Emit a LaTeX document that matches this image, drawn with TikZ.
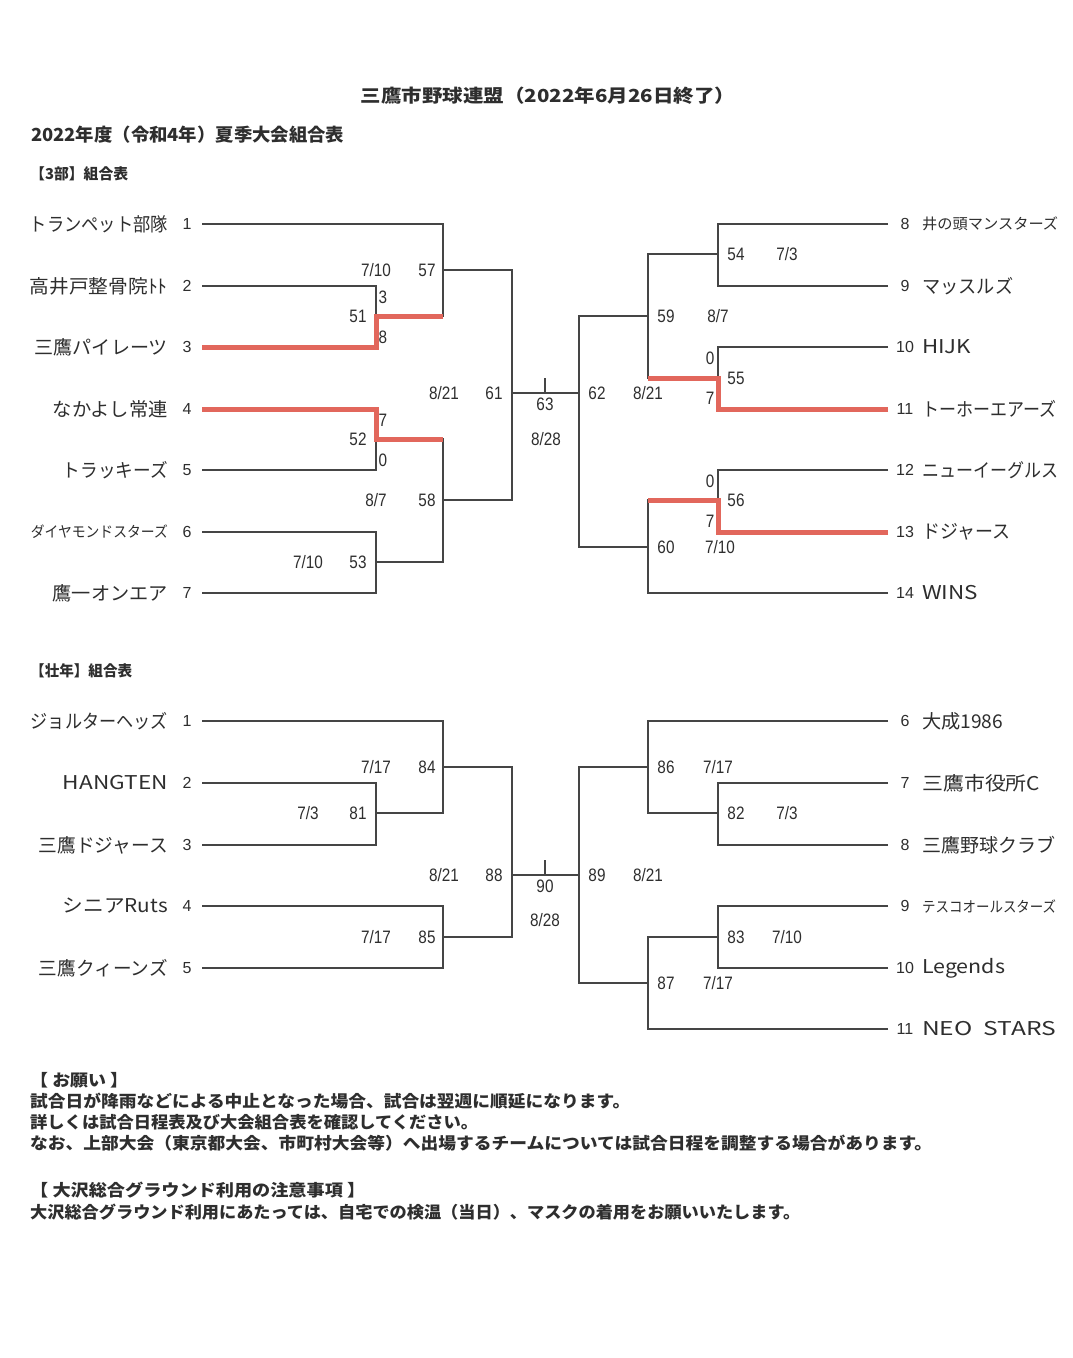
\documentclass[tikz,border=0pt]{standalone}
\usepackage{fontspec}
\usepackage{graphicx}
\setmainfont{Noto Sans CJK JP}
\newfontfamily\numfont{Liberation Sans}[FakeStretch=0.85]
\newfontfamily\seedfont{Liberation Sans}
\newcommand\fitw[2]{\resizebox{#1pt}{\height}{#2}}
\definecolor{ln}{HTML}{454545}
\definecolor{rd}{HTML}{E2675C}
\definecolor{tx}{HTML}{2E2E2E}
\begin{document}
\begin{tikzpicture}[x=1pt,y=-1pt,
  br/.style={draw=ln, line width=1.5pt},
  win/.style={draw=rd, line width=5pt, line join=miter},
  lname/.style={anchor=east, inner sep=0pt, text=tx, font=\fontsize{19}{19}\selectfont},
  rname/.style={anchor=west, inner sep=0pt, text=tx, font=\fontsize{19}{19}\selectfont},
  small/.style={font=\fontsize{15}{15}\selectfont},
  seed/.style={inner sep=0pt, text=tx, font=\seedfont\fontsize{16}{16}\selectfont},
  lbl/.style={inner sep=0pt, text=tx, font=\numfont\fontsize{18}{18}\selectfont},
  head/.style={anchor=west, inner sep=0pt, text=tx, font=\bfseries\fontsize{16}{16}\selectfont},
  note/.style={anchor=west, inner sep=0pt, text=tx, font=\bfseries\fontsize{16.5}{16.5}\selectfont},
]
\useasboundingbox[fill=white] (0,0) rectangle (1072,1358);

% ---------- headings ----------
\node[inner sep=0pt, text=tx, font=\bfseries\fontsize{18}{18}\selectfont] (title) at (548,96) {\fitw{374}{三鷹市野球連盟（2022年6月26日終了）}};
\node[head, font=\bfseries\fontsize{18}{18}\selectfont] (sub) at (31,135) {\fitw{313}{2022年度（令和4年）夏季大会組合表}};
\node[head, font=\bfseries\fontsize{15}{15}\selectfont] (secA) at (30,174) {\fitw{98}{【3部】組合表}};
\node[head, font=\bfseries\fontsize{15}{15}\selectfont] (secB) at (30,671) {\fitw{102}{【壮年】組合表}};

% ================= Section A: 3部 =================
\coordinate (a1) at (202,224); \coordinate (a2) at (202,286);
\coordinate (a3) at (202,347); \coordinate (a4) at (202,409);
\coordinate (a5) at (202,470); \coordinate (a6) at (202,532);
\coordinate (a7) at (202,593);
\coordinate (b8) at (888,224); \coordinate (b9) at (888,286);
\coordinate (b10) at (888,347); \coordinate (b11) at (888,409);
\coordinate (b12) at (888,470); \coordinate (b13) at (888,532);
\coordinate (b14) at (888,593);
\coordinate (j51) at (376,316); \coordinate (j52) at (376,439);
\coordinate (j53) at (376,562); \coordinate (j57) at (443,270);
\coordinate (j58) at (443,500); \coordinate (j61) at (512,393);
\coordinate (j54) at (718,254); \coordinate (j55) at (718,378);
\coordinate (j56) at (718,500); \coordinate (j59) at (648,316);
\coordinate (j60) at (648,547); \coordinate (j62) at (579,393);
\coordinate (k63) at (545,393); \coordinate (k63t) at (545,378);

\draw[br] (a2) -| (j51); \draw[br] (a3) -| (j51);
\draw[br] (a4) -| (j52); \draw[br] (a5) -| (j52);
\draw[br] (a6) -| (j53); \draw[br] (a7) -| (j53);
\draw[br] (a1) -| (j57); \draw[br] (j51) -| (j57);
\draw[br] (j52) -| (j58); \draw[br] (j53) -| (j58);
\draw[br] (j57) -| (j61); \draw[br] (j58) -| (j61);
\draw[br] (b8) -| (j54); \draw[br] (b9) -| (j54);
\draw[br] (b10) -| (j55); \draw[br] (b11) -| (j55);
\draw[br] (b12) -| (j56); \draw[br] (b13) -| (j56);
\draw[br] (j54) -| (j59); \draw[br] (j55) -| (j59);
\draw[br] (j56) -| (j60); \draw[br] (b14) -| (j60);
\draw[br] (j59) -| (j62); \draw[br] (j60) -| (j62);
\draw[br] (j61) -- (j62);
\draw[br] (k63) -- (k63t);
\draw[win] (a3) -| (j51) -- (j51 -| j57);
\draw[win] (a4) -| (j52) -- (j52 -| j58);
\draw[win] (b11) -| (j55) -- (j55 -| j59);
\draw[win] (b13) -| (j56) -- (j56 -| j60);

\node[lname] (n1) at (168,224) {\fitw{138}{トランペット部隊}};
\node[lname] (n2) at (168,286) {\fitw{138}{高井戸整骨院ﾄﾄ}};
\node[lname] (n3) at (168,347) {\fitw{133}{三鷹パイレーツ}};
\node[lname] (n4) at (168,409) {\fitw{115}{なかよし常連}};
\node[lname] (n5) at (168,470) {\fitw{105}{トラッキーズ}};
\node[lname, small] (n6) at (168,532) {\fitw{137}{ダイヤモンドスターズ}};
\node[lname] (n7) at (168,593) {\fitw{115}{鷹一オンエア}};
\foreach \i/\y in {1/224,2/286,3/347,4/409,5/470,6/532,7/593}
  \node[seed] (sA\i) at (187,\y) {\i};
\node[rname, small] (n8) at (922,224) {\fitw{136}{井の頭マンスターズ}};
\node[rname] (n9) at (922,286) {\fitw{91}{マッスルズ}};
\node[rname] (n10) at (922,347) {\fitw{49}{HIJK}};
\node[rname] (n11) at (922,409) {\fitw{134}{トーホーエアーズ}};
\node[rname] (n12) at (922,470) {\fitw{136}{ニューイーグルス}};
\node[rname] (n13) at (922,532) {\fitw{88}{ドジャース}};
\node[rname] (n14) at (922,593) {\fitw{56}{WINS}};
\foreach \i/\y in {8/224,9/286,10/347,11/409,12/470,13/532,14/593}
  \node[seed] (sA\i) at (905,\y) {\i};

\node[lbl] (d57) at (376,270) {7/10}; \node[lbl] (m57) at (427,270) {57};
\node[lbl] (s51a) at (383,297) {3}; \node[lbl] (m51) at (358,316) {51}; \node[lbl] (s51b) at (383,337) {8};
\node[lbl] (d61) at (444,393) {8/21}; \node[lbl] (m61) at (494,393) {61};
\node[lbl] (m63) at (545,404) {63}; \node[lbl] (d63) at (546,439) {8/28};
\node[lbl] (s52a) at (383,420) {7}; \node[lbl] (m52) at (358,439) {52}; \node[lbl] (s52b) at (383,460) {0};
\node[lbl] (d58) at (376,500) {8/7}; \node[lbl] (m58) at (427,500) {58};
\node[lbl] (d53) at (308,562) {7/10}; \node[lbl] (m53) at (358,562) {53};
\node[lbl] (m62) at (597,393) {62}; \node[lbl] (d62) at (648,393) {8/21};
\node[lbl] (m54) at (736,254) {54}; \node[lbl] (d54) at (787,254) {7/3};
\node[lbl] (m59) at (666,316) {59}; \node[lbl] (d59) at (718,316) {8/7};
\node[lbl] (s55a) at (710,358) {0}; \node[lbl] (m55) at (736,378) {55}; \node[lbl] (s55b) at (710,398) {7};
\node[lbl] (s56a) at (710,481) {0}; \node[lbl] (m56) at (736,500) {56}; \node[lbl] (s56b) at (710,521) {7};
\node[lbl] (m60) at (666,547) {60}; \node[lbl] (d60) at (720,547) {7/10};

% ================= Section B: 壮年 =================
\coordinate (c1) at (202,721); \coordinate (c2) at (202,783);
\coordinate (c3) at (202,845); \coordinate (c4) at (202,906);
\coordinate (c5) at (202,968);
\coordinate (e6) at (888,721); \coordinate (e7) at (888,783);
\coordinate (e8) at (888,845); \coordinate (e9) at (888,906);
\coordinate (e10) at (888,968); \coordinate (e11) at (888,1029);
\coordinate (j81) at (376,813); \coordinate (j84) at (443,767);
\coordinate (j85) at (443,937); \coordinate (j88) at (512,875);
\coordinate (j82) at (718,813); \coordinate (j86) at (648,767);
\coordinate (j83) at (718,937); \coordinate (j87) at (648,983);
\coordinate (j89) at (579,875);
\coordinate (k90) at (545,875); \coordinate (k90t) at (545,860);

\draw[br] (c2) -| (j81); \draw[br] (c3) -| (j81);
\draw[br] (c1) -| (j84); \draw[br] (j81) -| (j84);
\draw[br] (c4) -| (j85); \draw[br] (c5) -| (j85);
\draw[br] (j84) -| (j88); \draw[br] (j85) -| (j88);
\draw[br] (e7) -| (j82); \draw[br] (e8) -| (j82);
\draw[br] (e6) -| (j86); \draw[br] (j82) -| (j86);
\draw[br] (e9) -| (j83); \draw[br] (e10) -| (j83);
\draw[br] (j83) -| (j87); \draw[br] (e11) -| (j87);
\draw[br] (j86) -| (j89); \draw[br] (j87) -| (j89);
\draw[br] (j88) -- (j89);
\draw[br] (k90) -- (k90t);

\node[lname] (o1) at (168,721) {\fitw{137}{ジョルターヘッズ}};
\node[lname] (o2) at (168,783) {\fitw{105}{HANGTEN}};
\node[lname] (o3) at (168,845) {\fitw{129}{三鷹ドジャース}};
\node[lname] (o4) at (168,906) {\fitw{105}{シニアRuts}};
\node[lname] (o5) at (168,968) {\fitw{129}{三鷹クィーンズ}};
\foreach \i/\y in {1/721,2/783,3/845,4/906,5/968}
  \node[seed] (sB\i) at (187,\y) {\i};
\node[rname] (o6) at (922,721) {\fitw{81}{大成1986}};
\node[rname] (o7) at (922,783) {\fitw{118}{三鷹市役所C}};
\node[rname] (o8) at (922,845) {\fitw{133}{三鷹野球クラブ}};
\node[rname, small] (o9) at (922,906) {\fitw{134}{テスコオールスターズ}};
\node[rname] (o10) at (922,968) {\fitw{83}{Legends}};
\node[rname] (o11) at (922,1029) {\fitw{134}{NEO\ \ STARS}};
\foreach \i/\y in {6/721,7/783,8/845,9/906,10/968,11/1029}
  \node[seed] (sB\i) at (905,\y) {\i};

\node[lbl] (d84) at (376,767) {7/17}; \node[lbl] (m84) at (427,767) {84};
\node[lbl] (d81) at (308,813) {7/3}; \node[lbl] (m81) at (358,813) {81};
\node[lbl] (d88) at (444,875) {8/21}; \node[lbl] (m88) at (494,875) {88};
\node[lbl] (m90) at (545,886) {90}; \node[lbl] (d90) at (545,920) {8/28};
\node[lbl] (d85) at (376,937) {7/17}; \node[lbl] (m85) at (427,937) {85};
\node[lbl] (m89) at (597,875) {89}; \node[lbl] (d89) at (648,875) {8/21};
\node[lbl] (m86) at (666,767) {86}; \node[lbl] (d86) at (718,767) {7/17};
\node[lbl] (m82) at (736,813) {82}; \node[lbl] (d82) at (787,813) {7/3};
\node[lbl] (m83) at (736,937) {83}; \node[lbl] (d83) at (787,937) {7/10};
\node[lbl] (m87) at (666,983) {87}; \node[lbl] (d87) at (718,983) {7/17};

% ---------- notes ----------
\node[note] (r1) at (30,1080) {\fitw{98}{【\ お願い\ 】}};
\node[note] (r2) at (30,1101) {\fitw{600}{試合日が降雨などによる中止となった場合、試合は翌週に順延になります。}};
\node[note] (r3) at (30,1122) {\fitw{448}{詳しくは試合日程表及び大会組合表を確認してください。}};
\node[note] (r4) at (30,1143) {\fitw{902}{なお、上部大会（東京都大会、市町村大会等）へ出場するチームについては試合日程を調整する場合があります。}};
\node[note] (r5) at (30,1190) {\fitw{335}{【\ 大沢総合グラウンド利用の注意事項\ 】}};
\node[note] (r6) at (30,1212) {\fitw{770}{大沢総合グラウンド利用にあたっては、自宅での検温（当日）、マスクの着用をお願いいたします。}};
\end{tikzpicture}
\end{document}
